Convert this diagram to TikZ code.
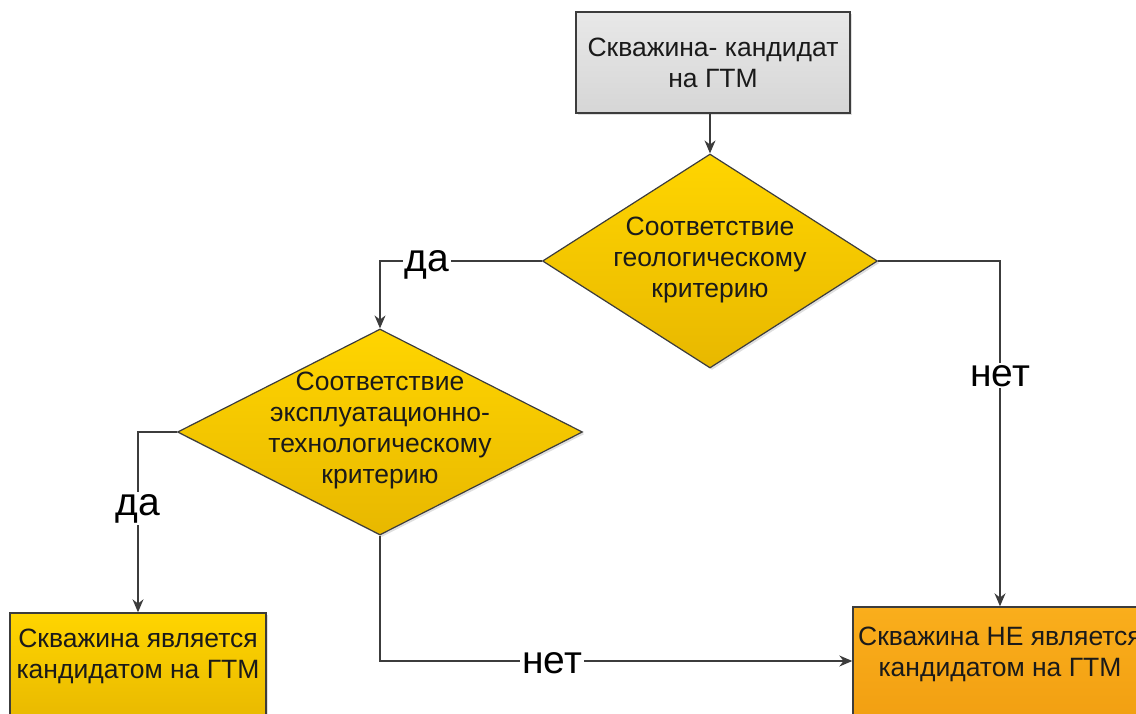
\documentclass[tikz,border=0pt]{standalone}
\usepackage{fontspec}
\setmainfont{Liberation Sans}
\usetikzlibrary{shapes.geometric,arrows.meta,shadows}
\definecolor{lnc}{HTML}{3C3C3C}
\definecolor{txc}{HTML}{1A1A1A}
\definecolor{yelT}{HTML}{FFD500}
\definecolor{yelB}{HTML}{E8B800}
\definecolor{orT}{HTML}{FAAE1C}
\definecolor{orB}{HTML}{F2A012}
\definecolor{grT}{HTML}{E8E8E8}
\definecolor{grB}{HTML}{D6D6D6}
\tikzset{
  boxnode/.style={draw=lnc, line width=1.4pt, rectangle, inner sep=0pt,
    drop shadow={shadow xshift=2pt, shadow yshift=-2pt, opacity=0.25}},
  decnode/.style={draw=lnc, line width=1.2pt, diamond, inner sep=0pt,
    top color=yelT, bottom color=yelB,
    drop shadow={shadow xshift=2pt, shadow yshift=-2pt, opacity=0.25}},
  txt/.style={align=center, text=txc, font=\fontsize{26.5}{31}\selectfont, inner sep=0pt},
  conn/.style={draw=lnc, line width=1.4pt, -{Stealth[length=13pt,width=11pt]}},
  lbl/.style={fill=white, text=black, font=\fontsize{39}{42}\selectfont, inner sep=2pt, anchor=base}
}
\begin{document}
\begin{tikzpicture}[x=1pt,y=-1pt]
\useasboundingbox (0,0) rectangle (1136,713);
\clip (0,0) rectangle (1136,713);

% nodes
\node[boxnode, top color=grT, bottom color=grB, minimum width=274pt, minimum height=101pt] (start) at (713,62.5) {};
\node[txt] (starttxt) at (start.center) {Скважина- кандидат\\на ГТМ};

\node[decnode, minimum width=335pt, minimum height=214pt] (d1) at (710,261) {};
\node[txt] (d1txt) at (710,260) {Соответствие\\геологическому\\критерию};

\node[decnode, minimum width=405pt, minimum height=206pt] (d2) at (380,432) {};
\node[txt] (d2txt) at (380,430) {Соответствие\\эксплуатационно-\\технологическому\\критерию};

\node[boxnode, top color=yelT, bottom color=yelB, minimum width=256pt, minimum height=110pt] (yes) at (138,668) {};
\node[txt] (yestxt) at (138,656) {Скважина является\\кандидатом на ГТМ};

\node[boxnode, top color=orT, bottom color=orB, minimum width=294pt, minimum height=108pt] (no) at (1000,661) {};
\node[txt] (notxt) at (1000,654) {Скважина НЕ является\\кандидатом на ГТМ};

% connectors
\draw[conn] (d1.north |- start.south) -- (d1.north);
\draw[conn] (d1.west) -| (d2.north);
\draw[conn] (d1.east) -| (no.north);
\draw[conn] (d2.west) -| (yes.north);
\draw[conn] (d2.south) |- (no.west);

% labels
\node[lbl] (l1) at (427,271) {да};
\node[lbl] (l2) at (1000,386) {нет};
\node[lbl] (l3) at (138,515) {да};
\node[lbl] (l4) at (552,673) {нет};
\end{tikzpicture}
\end{document}
